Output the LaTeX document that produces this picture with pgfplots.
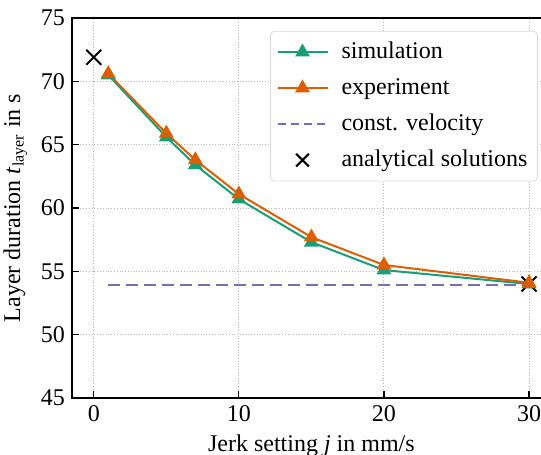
\documentclass[border=0pt]{standalone}
\usepackage{fontspec}
\setmainfont{Liberation Serif}
\usepackage{pgfplots}
\pgfplotsset{compat=1.18}
\definecolor{simc}{HTML}{1B9E77}
\definecolor{expc}{HTML}{D95F02}
\definecolor{velc}{HTML}{7570B3}

\begin{document}
\begin{tikzpicture}
\begin{axis}[
    scale only axis,
    width=239.4pt, height=190pt,
    xmin=-1.5, xmax=31.5,
    ymin=45, ymax=75,
    xtick={0,10,20,30},
    ytick={45,50,...,75},
    tick align=inside,
    xtick pos=bottom, ytick pos=left,
    major tick length=3.5pt,
    grid=major,
    grid style={densely dotted, black!28, line width=0.5pt},
    axis line style={line width=0.6pt},
    every tick/.style={black, line width=0.6pt},
    tick label style={font=\fontsize{12}{14}\selectfont},
    label style={font=\fontsize{12}{14}\selectfont},
    /pgf/number format/assume math mode=true,
    xlabel={Jerk setting \textit{j} in mm/s},
    ylabel={Layer duration \textit{t}\textsubscript{layer} in s},
    legend style={
        at={(0.973,0.966)}, anchor=north east,
        draw=black!15, fill=white, rounded corners=2pt,
        font=\fontsize{12}{14}\selectfont,
        row sep=4.3pt, inner xsep=3pt, inner ysep=3.5pt,
        /tikz/every odd column/.append style={column sep=4.5pt},
    },
    legend cell align=left,
    legend image code/.code={
        \draw[sharp corners, mark repeat=2, mark phase=2, #1]
            plot coordinates {(0pt,0pt) (12.5pt,0pt) (25pt,0pt)};
    },
]

% drawn first so the curves lie on top
\addplot[velc, line width=1pt, dash pattern=on 6pt off 3pt, forget plot]
    coordinates {(1,53.9) (30,53.9)};
\addplot[black, only marks, mark=x, mark size=5.3pt, line width=1pt, forget plot]
    coordinates {(0,71.9) (30,54.0)};

\addplot[simc, line width=1pt, mark=triangle*, mark size=3.3pt]
    coordinates {(1,70.5) (5,65.6) (7,63.4) (10,60.7) (15,57.3) (20,55.1) (30,54.0)};
\addlegendentry{simulation}
\addplot[expc, line width=1pt, mark=triangle*, mark size=3.3pt]
    coordinates {(1,70.6) (5,65.9) (7,63.8) (10,61.1) (15,57.7) (20,55.5) (30,54.1)};
\addlegendentry{experiment}

\addlegendimage{velc, line width=1pt, dash pattern=on 4pt off 2.5pt}
\addlegendentry{const. velocity}
\addlegendimage{black, only marks, mark=x, mark size=4.5pt, line width=1pt}
\addlegendentry{analytical solutions}

\end{axis}
\pgfresetboundingbox
\path[use as bounding box] ([xshift=-36pt,yshift=-28.5pt]current axis.south west)
    rectangle ([xshift=234.5pt,yshift=9pt]current axis.north west);
\end{tikzpicture}
\end{document}
